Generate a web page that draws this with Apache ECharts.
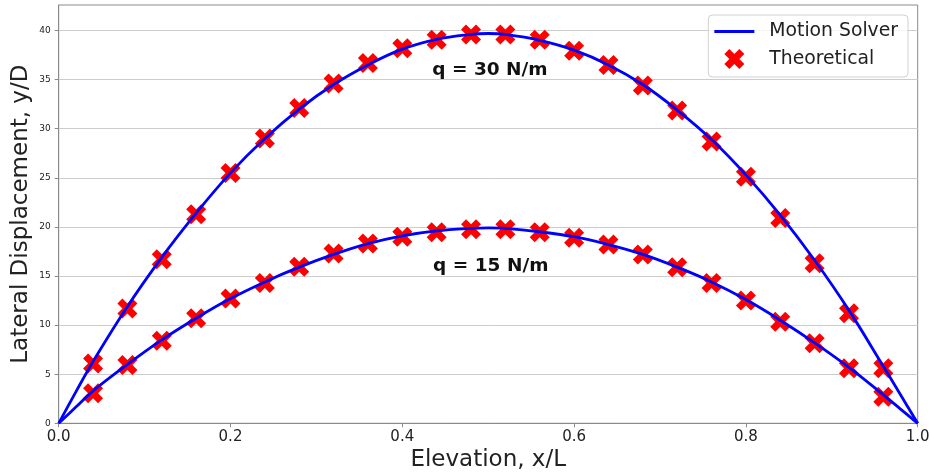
<!DOCTYPE html>
<html>
<head>
<meta charset="utf-8">
<script src="https://cdn.jsdelivr.net/npm/echarts@6/dist/echarts.min.js"></script>
<style>
  html, body { margin: 0; padding: 0; background: #fff; }
  #chart { width: 930px; height: 476px; }
</style>
</head>
<body>
<div id="chart"></div>
<script>
// Beam lateral displacement along the elevation, two load cases.

// Motion Solver curves (x/L, y/D)
const solverX = [0, 0.02, 0.04, 0.08, 0.12, 0.16, 0.20, 0.24, 0.28, 0.32, 0.36, 0.40, 0.44, 0.48, 0.50,
                 0.52, 0.56, 0.60, 0.64, 0.68, 0.72, 0.76, 0.80, 0.84, 0.88, 0.92, 0.96, 0.98, 1.0];
const solverQ30 = [0, 3.2, 6.3, 11.9, 16.9, 21.4, 25.5, 29.0, 32.0, 34.5, 36.5, 38.1, 39.1, 39.6, 39.7,
                   39.6, 39.0, 38.0, 36.5, 34.5, 31.9, 28.9, 25.3, 21.2, 16.6, 11.5, 5.8, 2.9, 0];
const solverQ15 = [0, 1.65, 3.3, 6.0, 8.5, 10.7, 12.7, 14.4, 15.9, 17.2, 18.3, 19.1, 19.6, 19.85, 19.9,
                   19.85, 19.5, 19.0, 18.2, 17.2, 15.9, 14.4, 12.6, 10.5, 8.2, 5.7, 2.9, 1.45, 0];

// Theoretical points
const theoryX = [0.04, 0.08, 0.12, 0.16, 0.20, 0.24, 0.28, 0.32, 0.36, 0.40, 0.44, 0.48,
                 0.52, 0.56, 0.60, 0.64, 0.68, 0.72, 0.76, 0.80, 0.84, 0.88, 0.92, 0.96];
const theoryQ30 = [6.1, 11.7, 16.7, 21.3, 25.5, 29.0, 32.1, 34.6, 36.7, 38.2, 39.05, 39.6,
                   39.6, 39.05, 37.95, 36.5, 34.4, 31.85, 28.7, 25.1, 20.9, 16.3, 11.2, 5.6];
const theoryQ15 = [3.05, 5.95, 8.4, 10.7, 12.7, 14.3, 15.95, 17.3, 18.3, 19.0, 19.45, 19.75,
                   19.75, 19.45, 18.9, 18.2, 17.2, 15.9, 14.3, 12.5, 10.35, 8.15, 5.6, 2.7];

// Axis ticks
const xTicks = [0, 0.2, 0.4, 0.6, 0.8, 1.0];
const yTicks = [0, 5, 10, 15, 20, 25, 30, 35, 40];

// Load-case annotations [x, y, text]
const notes = [
  [0.502, 36.0, 'q = 30 N/m'],
  [0.503, 16.0, 'q = 15 N/m']
];

const zip = (xs, ys) => xs.map((x, i) => [x, ys[i]]);

const crossPath = 'path://M2.5,0 L5,2.5 L7.5,0 L10,2.5 L7.5,5 L10,7.5 L7.5,10 L5,7.5 L2.5,10 L0,7.5 L2.5,5 L0,2.5 Z';
const linePath = 'path://M0,0 L40,0 L40,2.8 L0,2.8 Z';
const BLUE = '#0000ff';
const RED = '#ff0000';
const FONT = 'DejaVu Sans';

const chart = echarts.init(document.getElementById('chart'), null, { renderer: 'canvas' });

const lineSeries = (data) => ({
  name: 'Motion Solver',
  type: 'line',
  data: data,
  smooth: 0.35,
  showSymbol: false,
  symbol: 'none',
  z: 4,
  lineStyle: { color: BLUE, width: 2.8 },
  itemStyle: { color: BLUE },
  animation: false
});

const pointSeries = (data) => ({
  name: 'Theoretical',
  type: 'scatter',
  data: data,
  symbol: crossPath,
  symbolSize: 20,
  z: 2,
  itemStyle: { color: RED, opacity: 1 },
  animation: false
});

chart.setOption({
  animation: false,
  backgroundColor: '#fff',
  grid: {
    left: 58.7, right: 12.3, top: 5, bottom: 52.7,
    outerBoundsMode: 'none',
    containLabel: false,
    show: true, borderColor: '#8a8a8a', borderWidth: 1, backgroundColor: 'transparent'
  },
  legend: {
    orient: 'vertical',
    right: 22,
    top: 15,
    padding: [7, 10, 8, 6],
    itemWidth: 40,
    itemHeight: 20,
    itemGap: 8,
    symbolKeepAspect: true,
    backgroundColor: 'rgba(255,255,255,0.8)',
    borderColor: '#d0d0d0',
    borderWidth: 1,
    borderRadius: 4,
    data: [
      { name: 'Motion Solver', icon: linePath, itemStyle: { color: BLUE } },
      { name: 'Theoretical', icon: crossPath, itemStyle: { color: RED, opacity: 1 } }
    ],
    textStyle: { fontFamily: FONT, fontSize: 18.8, color: '#222', padding: [0, 0, 0, 10] }
  },
  xAxis: {
    type: 'value',
    min: 0, max: 1, interval: 0.2,
    name: 'Elevation, x/L',
    nameLocation: 'middle',
    nameGap: 25,
    nameMoveOverlap: false,
    nameTextStyle: { fontFamily: FONT, fontSize: 23, color: '#222' },
    axisLine: { show: true, lineStyle: { color: '#8a8a8a', width: 1 } },
    axisTick: { show: true, inside: false, length: 4, lineStyle: { color: '#8a8a8a' } },
    axisLabel: {
      fontFamily: FONT, fontSize: 15, color: '#222', margin: 6,
      formatter: (v) => v.toFixed(1)
    },
    splitLine: { show: false }
  },
  yAxis: {
    type: 'value',
    min: 0, max: 42.6, interval: 5,
    name: 'Lateral Displacement, y/D',
    nameLocation: 'middle',
    nameGap: 26,
    nameMoveOverlap: false,
    nameTextStyle: { fontFamily: FONT, fontSize: 23, color: '#222' },
    axisLine: { show: true, lineStyle: { color: '#8a8a8a', width: 1 } },
    axisTick: { show: true, inside: false, length: 4, lineStyle: { color: '#8a8a8a' }, customValues: yTicks },
    axisLabel: {
      fontFamily: FONT, fontSize: 9, color: '#222', margin: 8,
      customValues: yTicks,
      formatter: (v) => String(v)
    },
    splitLine: { show: true, lineStyle: { color: '#cccccc', width: 1 } }
  },
  series: [
    pointSeries(zip(theoryX, theoryQ30)),
    pointSeries(zip(theoryX, theoryQ15)),
    lineSeries(zip(solverX, solverQ30)),
    lineSeries(zip(solverX, solverQ15))
  ]
});

// Place the load-case labels in data coordinates
chart.setOption({
  graphic: notes.map(([x, y, text]) => {
    const p = chart.convertToPixel({ gridIndex: 0 }, [x, y]);
    return {
      type: 'text',
      x: p[0], y: p[1],
      z: 10,
      style: {
        text: text,
        fontFamily: FONT,
        fontWeight: 'bold',
        fontSize: 18.5,
        fill: '#111',
        align: 'center',
        verticalAlign: 'middle'
      }
    };
  })
});
</script>
</body>
</html>
